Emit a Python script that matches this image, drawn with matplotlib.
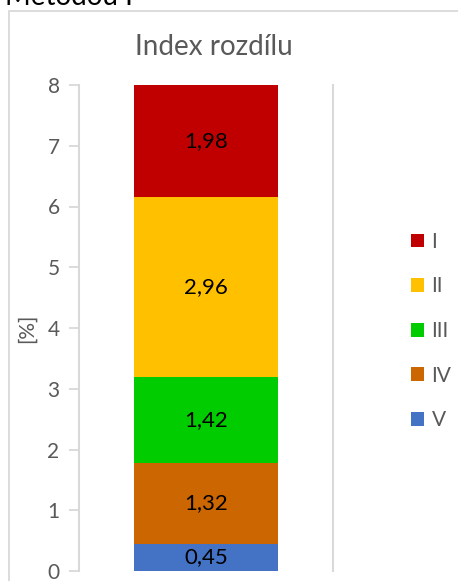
import matplotlib.pyplot as plt
from matplotlib.patches import Patch, Rectangle

plt.rcParams['font.family'] = ['Lato', 'DejaVu Sans']

# Data
series = ["I", "II", "III", "IV", "V"]
values = [1.98, 2.96, 1.42, 1.32, 0.45]
colors = ["#C00000", "#FFC000", "#00CC00", "#CC6600", "#4472C4"]
yticks = [0, 1, 2, 3, 4, 5, 6, 7, 8]

W, H = 458, 581
fig = plt.figure(figsize=(W / 100, H / 100), dpi=100)

# chart border (partly outside the image)
fig.patches.append(Rectangle((9 / W, -0.1), 1.2, 1 - 11 / H + 0.1, transform=fig.transFigure,
                             fill=False, edgecolor="#d9d9d9", linewidth=1.3))
fig.text(5 / W, 1 - 5 / H, "Metodou I", fontsize=20, va="baseline", ha="left", color="black")

ax = fig.add_axes([79 / W, 10 / H, 254 / W, 486 / H])

# stacked bar, bottom segment is the last series
bottom = 0
for name, val, col in reversed(list(zip(series, values, colors))):
    ax.bar(0, val, width=0.563, bottom=bottom, color=col, label=name, zorder=2)
    top = min(bottom + val, 8)
    ax.text(0, (bottom + top) / 2, f"{val:.2f}".replace(".", ","), ha="center", va="center",
            fontsize=16, color="black", zorder=3)
    bottom += val

ax.set_xlim(-0.5, 0.5)
ax.set_ylim(0, 8)
ax.set_yticks(yticks)
ax.set_xticks([])
for s in ["top", "bottom"]:
    ax.spines[s].set_visible(False)
for s in ["left", "right"]:
    ax.spines[s].set_color("#d9d9d9")
    ax.spines[s].set_linewidth(1.5)
ax.tick_params(axis="y", length=7, width=1.3, color="#d9d9d9", labelcolor="#595959",
               labelsize=15, pad=7)
ax.set_ylabel("[%]", color="#595959", fontsize=15, labelpad=0)
ax.yaxis.set_label_coords(-0.165, 0.5)
fig.text(214 / W, 1 - 47 / H, "Index rozdílu", color="#595959", fontsize=20,
         ha="center", va="center")

handles = [Patch(facecolor=c, label=n) for n, c in zip(series, colors)]
fig.legend(handles=handles, loc="center left", bbox_to_anchor=(392 / W, 1 - 331 / H),
           frameon=False, fontsize=15, labelcolor="#595959", handlelength=0.65,
           handleheight=0.65, handletextpad=0.35, labelspacing=1.18)

fig.savefig("out.png", dpi=100)
